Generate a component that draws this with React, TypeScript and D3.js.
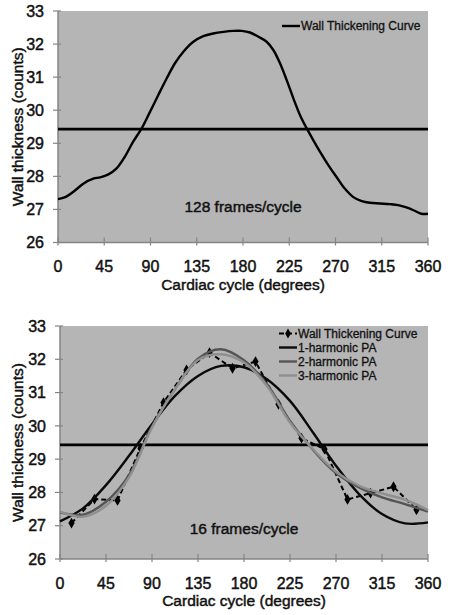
import React from "react";
import * as d3 from "d3";

// ---------- data ----------
const yTicks = [26, 27, 28, 29, 30, 31, 32, 33];
const xTicks = [0, 45, 90, 135, 180, 225, 270, 315, 360];
const meanLevel = 29.43;

// top panel: 128 frames/cycle curve
const topDeg = [0, 7, 16.5, 24.6, 34.4, 41, 49, 57, 65, 73, 81.4, 89.5, 97.6, 105.7, 113.8, 122, 131.7, 141.4, 151, 161, 170.6, 178.7, 186.8, 195, 203, 209.5, 216, 222.5, 229, 235.5, 242, 248.5, 255, 263, 271, 279, 287, 295.5, 303.6, 313, 323, 331, 339, 347, 353.5, 360];
const topVal = [27.31, 27.37, 27.57, 27.78, 27.93, 27.97, 28.06, 28.24, 28.59, 29.04, 29.45, 29.95, 30.46, 30.96, 31.42, 31.77, 32.07, 32.24, 32.32, 32.37, 32.4, 32.4, 32.35, 32.22, 32.07, 31.82, 31.42, 30.91, 30.36, 29.85, 29.45, 29.09, 28.74, 28.34, 27.98, 27.63, 27.38, 27.25, 27.2, 27.18, 27.16, 27.13, 27.06, 26.96, 26.87, 26.87];

// bottom panel: 16 frames/cycle samples
const wtDeg = [11.25, 33.75, 56.25, 78.75, 101.25, 123.75, 146.25, 168.75, 191.25, 213.75, 236.25, 258.75, 281.25, 303.75, 326.25, 348.75];
const wtVal = [27.08, 27.8, 27.76, 29.33, 30.7, 31.68, 32.2, 31.73, 31.93, 30.65, 29.63, 29.3, 27.79, 27.98, 28.17, 27.48];

// harmonic approximations (read at 22.5 degree steps)
const paDeg = [0, 22.5, 45, 67.5, 90, 112.5, 135, 157.5, 180, 202.5, 225, 247.5, 270, 292.5, 315, 337.5, 360];
const h1Val = [27.13, 27.52, 28.22, 29.1, 30.05, 30.9, 31.5, 31.8, 31.76, 31.4, 30.75, 29.8, 28.8, 27.95, 27.35, 27.07, 27.1];
const h2Val = [27.4, 27.33, 27.72, 28.52, 29.98, 31.1, 32.02, 32.3, 31.97, 31.25, 30.15, 29.28, 28.58, 28.15, 27.85, 27.65, 27.42];
const h3Val = [27.42, 27.27, 27.6, 28.45, 29.95, 31.1, 31.98, 32.15, 31.9, 31.2, 30.1, 29.3, 28.62, 28.2, 27.97, 27.78, 27.47];

const legendTop = ["Wall Thickening Curve"];
const legendBottom = ["Wall Thickening Curve", "1-harmonic PA", "2-harmonic PA", "3-harmonic PA"];

// ---------- styles ----------
const FONT = "'Liberation Sans', Arial, Helvetica, sans-serif";
const PLOT_BG = "#b5b5b5";
const AXIS_COLOR = "#858585";
const TEXT = "#111";
const textStyle = { stroke: TEXT, strokeWidth: 0.45 } as const;

type Series = {
  deg: number[];
  val: number[];
  color: string;
  width: number;
  dash?: string;
  markers?: boolean;
  curve?: d3.CurveFactory;
};

type PanelProps = {
  x0: number;
  x1: number;
  y0: number;
  y1: number;
  series: Series[];
  legend: string[];
  legendX: number;
  legendY: number;
  legendStep: number;
  note: string;
  noteVal: number;
  tickLabelY: number;
  titleY: number;
};

function Panel(p: PanelProps) {
  const x = d3.scaleLinear().domain([0, 360]).range([p.x0, p.x1]);
  const y = d3.scaleLinear().domain([26, 33]).range([p.y1, p.y0]);
  const cy = (p.y0 + p.y1) / 2;
  const cx = (p.x0 + p.x1) / 2;
  return (
    <g>
      <rect x={p.x0} y={p.y0} width={p.x1 - p.x0} height={p.y1 - p.y0} fill={PLOT_BG} />
      {/* axes */}
      <line x1={p.x0} x2={p.x0} y1={p.y0} y2={p.y1} stroke={AXIS_COLOR} strokeWidth={1.5} />
      <line x1={p.x0} x2={p.x1} y1={p.y1} y2={p.y1} stroke={AXIS_COLOR} strokeWidth={1.5} />
      {yTicks.map((t) => (
        <g key={"y" + t}>
          <line x1={p.x0 - 5} x2={p.x0 + 3} y1={y(t)} y2={y(t)} stroke={AXIS_COLOR} strokeWidth={1.2} />
          <text x={p.x0 - 14} y={y(t)} dy="0.36em" textAnchor="end" fontFamily={FONT} fontSize={16} fill={TEXT} style={textStyle}>
            {t}
          </text>
        </g>
      ))}
      {xTicks.map((t) => (
        <g key={"x" + t}>
          <line x1={x(t)} x2={x(t)} y1={p.y1 - 5} y2={p.y1 + 3} stroke={AXIS_COLOR} strokeWidth={1.2} />
          <text x={x(t)} y={p.tickLabelY} textAnchor="middle" fontFamily={FONT} fontSize={16} fill={TEXT} style={textStyle}>
            {t}
          </text>
        </g>
      ))}
      <text x={cx} y={p.titleY} textAnchor="middle" fontFamily={FONT} fontSize={15.5} fill={TEXT} style={textStyle}>
        Cardiac cycle (degrees)
      </text>
      <text
        transform={`translate(${23},${cy}) rotate(-90)`}
        textAnchor="middle"
        fontFamily={FONT}
        fontSize={15.5}
        fill={TEXT}
        style={textStyle}
      >
        Wall thickness (counts)
      </text>
      {/* mean level */}
      <line x1={p.x0} x2={p.x1} y1={y(meanLevel)} y2={y(meanLevel)} stroke="#000" strokeWidth={2.8} />
      {/* series */}
      {p.series.map((s, i) => {
        const pts = s.deg.map((d, k) => [d, s.val[k]] as [number, number]);
        const line = d3
          .line<[number, number]>()
          .x((d) => x(d[0]))
          .y((d) => y(d[1]))
          .curve(s.curve ?? d3.curveCatmullRom.alpha(0.5));
        return (
          <g key={"s" + i}>
            <path d={line(pts) ?? ""} fill="none" stroke={s.color} strokeWidth={s.width} strokeDasharray={s.dash} />
            {s.markers &&
              pts.map((d, k) => (
                <path
                  key={k}
                  d={d3.symbol(d3.symbolDiamond, 34)() ?? ""}
                  transform={`translate(${x(d[0])},${y(d[1])})`}
                  fill="#000"
                />
              ))}
          </g>
        );
      })}
      {/* note */}
      <text x={x(180)} y={y(p.noteVal)} dy="0.36em" textAnchor="middle" fontFamily={FONT} fontSize={15.5} fill={TEXT} style={textStyle}>
        {p.note}
      </text>
      {/* legend */}
      {p.legend.map((name, i) => {
        const s = p.series[i];
        const ly = p.legendY + i * p.legendStep;
        return (
          <g key={"l" + i}>
            <line
              x1={p.legendX - 18}
              x2={p.legendX}
              y1={ly}
              y2={ly}
              stroke={s.color}
              strokeWidth={s.width}
              strokeDasharray={s.dash}
            />
            {s.markers && (
              <path d={d3.symbol(d3.symbolDiamond, 28)() ?? ""} transform={`translate(${p.legendX - 9},${ly})`} fill="#000" />
            )}
            <text x={p.legendX + 1} y={ly} dy="0.36em" fontFamily={FONT} fontSize={12} fill={TEXT} style={{ stroke: TEXT, strokeWidth: 0.3 }}>
              {name}
            </text>
          </g>
        );
      })}
    </g>
  );
}

export default function App() {
  const topSeries: Series[] = [
    { deg: topDeg, val: topVal, color: "#000", width: 2.4, curve: d3.curveCatmullRom.alpha(0.5) },
  ];
  const bottomSeries: Series[] = [
    { deg: wtDeg, val: wtVal, color: "#000", width: 2, dash: "5,3", markers: true, curve: d3.curveLinear },
    { deg: paDeg, val: h1Val, color: "#0a0a0a", width: 2.4 },
    { deg: paDeg, val: h2Val, color: "#555555", width: 2.4 },
    { deg: paDeg, val: h3Val, color: "#8f8f8f", width: 2.4 },
  ];
  return (
    <svg width={450} height={615} style={{ position: "absolute", left: 0, top: 0, background: "#fff" }}>
      <rect x={0} y={0} width={450} height={615} fill="#fff" />
      <Panel
        x0={58}
        x1={428}
        y0={11}
        y1={242.5}
        series={topSeries}
        legend={legendTop}
        legendX={300}
        legendY={26}
        legendStep={14}
        note="128 frames/cycle"
        noteVal={27.1}
        tickLabelY={272}
        titleY={290}
      />
      <Panel
        x0={60}
        x1={428}
        y0={326}
        y1={559}
        series={bottomSeries}
        legend={legendBottom}
        legendX={297}
        legendY={333.5}
        legendStep={14}
        note="16 frames/cycle"
        noteVal={26.93}
        tickLabelY={589}
        titleY={606}
      />
    </svg>
  );
}
